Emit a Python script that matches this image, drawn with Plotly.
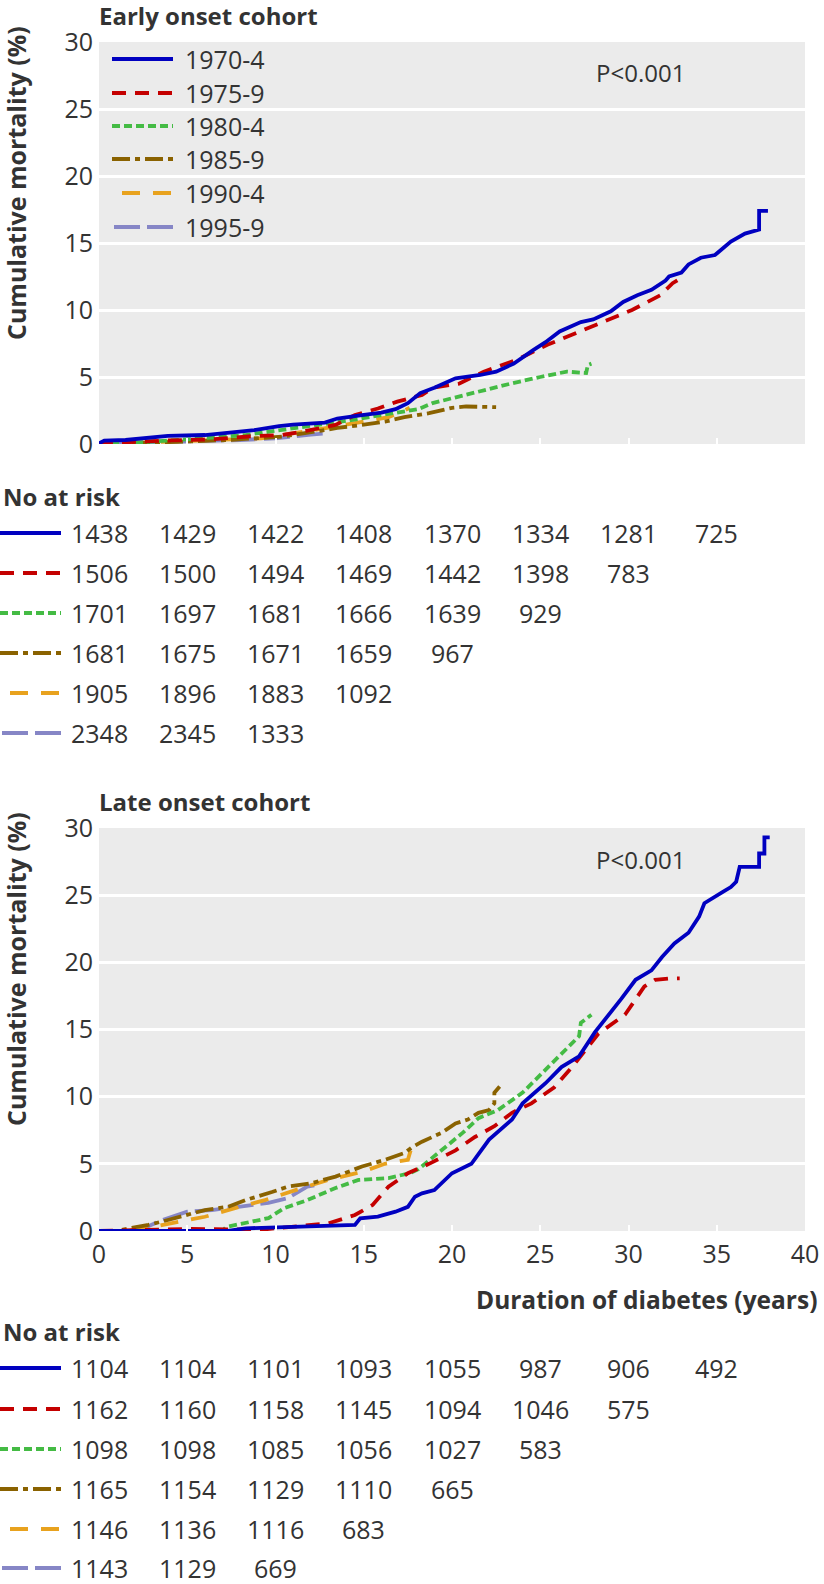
import plotly.graph_objects as go

W, H = 824, 1584

# ---------------- data ----------------
cohorts = ["1970-4", "1975-9", "1980-4", "1985-9", "1990-4", "1995-9"]
colors = ["#0000C0", "#C40000", "#44BB44", "#8A6200", "#E8A21E", "#8686C6"]
dashes = ["solid", "14px,9px", "8px,4px", "18px,5px,5px,5px", "18px,13px", "26px,7px"]
ticks_x = [0, 5, 10, 15, 20, 25, 30, 35, 40]
ticks_y = [0, 5, 10, 15, 20, 25, 30]

# Early onset cohort (duration, cumulative mortality %)
e1970_x = [0, 0.3, 1.5, 2.6, 3.9, 6.0, 7.3, 8.8, 10.2, 11.0, 12.8, 13.5, 14.9, 16.0, 16.8, 17.5, 18.2,
           19.0, 20.2, 21.0, 21.6, 22.5, 23.5, 24.6, 25.3, 26.1, 27.3, 28.0, 29.0, 29.7, 30.5, 31.3,
           32.1, 32.3, 33.0, 33.4, 34.1, 34.9, 35.8, 36.6, 37.4, 37.4, 37.9]
e1970_y = [0.05, 0.25, 0.3, 0.42, 0.6, 0.67, 0.85, 1.04, 1.34, 1.45, 1.6, 1.9, 2.16, 2.35, 2.6, 3.05, 3.8,
           4.2, 4.9, 5.05, 5.15, 5.4, 6.0, 7.0, 7.6, 8.4, 9.1, 9.3, 9.9, 10.6, 11.1, 11.5,
           12.2, 12.5, 12.8, 13.4, 13.9, 14.1, 15.1, 15.7, 16.0, 17.4, 17.4]
e1975_x = [0, 1.0, 3.6, 6.4, 8.8, 10.4, 11.8, 13.4, 14.5, 15.8, 16.9, 18.3, 18.9, 20.4, 21.8, 23.7,
           25.4, 26.5, 28.4, 30.2, 31.8, 32.5, 33.0]
e1975_y = [0, 0.1, 0.25, 0.35, 0.6, 0.67, 1.0, 1.42, 2.16, 2.65, 3.16, 3.66, 4.2, 4.5, 5.4, 6.3,
           7.4, 8.0, 9.0, 10.0, 11.1, 12.0, 12.4]
e1980_x = [0, 1.5, 4.5, 8.3, 11.7, 13.9, 16.0, 17.5, 18.1, 18.9, 20.2, 21.8, 23.3, 25.0, 26.5, 27.6, 27.7, 27.9]
e1980_y = [0, 0.05, 0.3, 0.67, 1.3, 1.7, 2.16, 2.5, 2.6, 3.05, 3.5, 4.0, 4.5, 5.0, 5.4, 5.3, 5.9, 6.0]
e1985_x = [0, 2.0, 7.3, 10.4, 12.6, 13.5, 14.9, 16.2, 17.3, 18.3, 18.7, 20.0, 20.8, 22.5]
e1985_y = [0, 0.05, 0.3, 0.55, 1.0, 1.2, 1.42, 1.67, 2.0, 2.25, 2.3, 2.7, 2.8, 2.75]
e1990_x = [0, 4.5, 9.2, 12.0, 14.7, 16.4, 17.3, 17.6]
e1990_y = [0, 0.2, 0.42, 1.0, 1.6, 2.0, 2.5, 2.7]
e1995_x = [0, 3.0, 5.4, 8.0, 10.0, 11.1, 12.0, 12.9]
e1995_y = [0, 0.1, 0.2, 0.3, 0.42, 0.6, 0.7, 0.8]

# Late onset cohort
l1970_x = [0, 7.3, 8.3, 11.8, 14.5, 14.8, 15.8, 16.8, 17.5, 17.9, 18.3, 19.0, 20.0, 21.1, 22.1, 23.4,
           24.0, 25.3, 26.2, 27.2, 28.1, 29.6, 30.4, 31.3, 31.9, 32.6, 33.4, 34.0, 34.3, 35.3, 35.8,
           36.1, 36.3, 37.4, 37.4, 37.7, 37.7, 38.0]
l1970_y = [0, 0, 0.2, 0.37, 0.45, 0.95, 1.07, 1.44, 1.8, 2.55, 2.8, 3.05, 4.3, 5.0, 6.8, 8.3,
           9.5, 11.0, 12.2, 13.0, 14.8, 17.3, 18.7, 19.4, 20.4, 21.4, 22.2, 23.4, 24.4, 25.2, 25.6,
           26.0, 27.1, 27.1, 28.1, 28.1, 29.3, 29.3]
l1975_x = [0, 5.0, 9.2, 11.1, 13.0, 14.5, 15.5, 16.4, 17.5, 18.2, 18.7, 20.2, 21.3, 22.4, 23.4, 24.5,
           25.8, 26.8, 28.3, 29.8, 30.4, 30.9, 31.5, 32.3, 32.9]
l1975_y = [0, 0.15, 0.1, 0.3, 0.57, 1.19, 1.94, 3.3, 4.3, 4.7, 5.0, 6.0, 7.0, 7.8, 8.8, 9.5,
           10.7, 12.2, 14.7, 16.1, 17.3, 18.2, 18.7, 18.8, 18.8]
l1980_x = [0, 7.0, 7.2, 8.8, 9.6, 10.5, 11.8, 13.4, 14.7, 16.4, 17.6, 18.1, 19.2, 20.6, 21.5, 22.6,
           24.0, 24.9, 26.0, 26.8, 27.2, 27.3, 27.9]
l1980_y = [0, 0, 0.3, 0.7, 0.96, 1.7, 2.3, 3.2, 3.8, 3.94, 4.3, 4.6, 5.8, 7.3, 8.4, 9.0,
           10.3, 11.5, 13.0, 14.0, 14.5, 15.5, 16.1]
l1985_x = [0, 1.0, 1.7, 2.8, 3.9, 6.0, 7.3, 8.3, 9.8, 10.7, 12.0, 13.4, 14.9, 16.2, 17.3, 17.7, 18.3,
           18.7, 19.4, 20.2, 20.9, 21.5, 22.1, 22.4, 22.4, 22.7]
l1985_y = [0, 0, 0.2, 0.45, 0.82, 1.56, 1.8, 2.3, 2.9, 3.3, 3.55, 4.05, 4.8, 5.3, 5.8, 6.2, 6.65,
           6.9, 7.3, 8.0, 8.3, 8.8, 9.0, 9.5, 10.3, 10.75]
l1990_x = [0, 1.5, 3.0, 6.0, 7.7, 9.4, 11.5, 13.0, 14.9, 16.2, 17.5, 17.6, 17.7]
l1990_y = [0, 0, 0.3, 1.06, 1.7, 2.3, 3.2, 3.8, 4.4, 5.0, 5.3, 5.9, 6.2]
l1995_x = [0, 1.5, 2.7, 3.6, 5.0, 6.4, 7.9, 9.6, 10.7, 11.8, 12.2]
l1995_y = [0, 0, 0.3, 0.82, 1.44, 1.56, 1.8, 2.1, 2.45, 3.3, 3.4]

# Numbers at risk (columns at 0, 5, 10, ... years)
early_risk_1970 = [1438, 1429, 1422, 1408, 1370, 1334, 1281, 725]
early_risk_1975 = [1506, 1500, 1494, 1469, 1442, 1398, 783]
early_risk_1980 = [1701, 1697, 1681, 1666, 1639, 929]
early_risk_1985 = [1681, 1675, 1671, 1659, 967]
early_risk_1990 = [1905, 1896, 1883, 1092]
early_risk_1995 = [2348, 2345, 1333]
late_risk_1970 = [1104, 1104, 1101, 1093, 1055, 987, 906, 492]
late_risk_1975 = [1162, 1160, 1158, 1145, 1094, 1046, 575]
late_risk_1980 = [1098, 1098, 1085, 1056, 1027, 583]
late_risk_1985 = [1165, 1154, 1129, 1110, 665]
late_risk_1990 = [1146, 1136, 1116, 683]
late_risk_1995 = [1143, 1129, 669]

early_series = [(e1970_x, e1970_y), (e1975_x, e1975_y), (e1980_x, e1980_y),
                (e1985_x, e1985_y), (e1990_x, e1990_y), (e1995_x, e1995_y)]
late_series = [(l1970_x, l1970_y), (l1975_x, l1975_y), (l1980_x, l1980_y),
               (l1985_x, l1985_y), (l1990_x, l1990_y), (l1995_x, l1995_y)]
early_risk = [early_risk_1970, early_risk_1975, early_risk_1980,
              early_risk_1985, early_risk_1990, early_risk_1995]
late_risk = [late_risk_1970, late_risk_1975, late_risk_1980,
             late_risk_1985, late_risk_1990, late_risk_1995]

# ---------------- figure ----------------
FONT = "Open Sans"
TXT = "#333333"
LW = 3.8


def py(pix):
    return 1 - pix / H


def px(pix):
    return pix / W


fig = go.Figure()
for panel, series in (("", early_series), ("2", late_series)):
    for i in reversed(range(len(cohorts))):
        xs, ys = series[i]
        fig.add_trace(go.Scatter(
            x=xs, y=ys, mode="lines", name=cohorts[i],
            line=dict(color=colors[i], width=LW, dash=dashes[i]),
            xaxis="x" + panel, yaxis="y" + panel, cliponaxis=False,
            showlegend=False, hoverinfo="skip"))

xdom = [px(99), px(805)]
xcommon = dict(domain=xdom, range=[0, 40], tickvals=ticks_x, showgrid=False, zeroline=False,
               showline=False, ticks="inside", ticklen=6, tickwidth=2, tickcolor="white",
               automargin=False,
               tickfont=dict(family=FONT, size=25, color=TXT, weight=400), fixedrange=True)
ycommon = dict(range=[0, 30], tickvals=ticks_y, showgrid=True, gridcolor="white", gridwidth=2.5,
               zeroline=False, showline=False, ticks="", ticklabelstandoff=5, automargin=False,
               tickfont=dict(family=FONT, size=25, color=TXT, weight=400), fixedrange=True)

fig.update_layout(
    width=W, height=H, margin=dict(l=0, r=0, t=0, b=0, pad=0, autoexpand=False),
    paper_bgcolor="white", plot_bgcolor="#EBEBEB", showlegend=False,
    xaxis=dict(xcommon, anchor="y", showticklabels=False),
    yaxis=dict(ycommon, anchor="x", domain=[py(444), py(42)]),
    xaxis2=dict(xcommon, anchor="y2", showticklabels=True, ticklabelstandoff=6),
    yaxis2=dict(ycommon, anchor="x2", domain=[py(1231), py(828)]),
)

ann = []
shapes = []


def text(x, y, s, size=25, bold=False, xanchor="left", xref="paper", angle=0):
    ann.append(dict(x=x, y=y, xref=xref, yref="paper", text=s, showarrow=False,
                    xanchor=xanchor, yanchor="middle", textangle=angle,
                    font=dict(family=FONT, size=size, color=TXT, weight=700 if bold else 400)))


def sample(x0, x1, y, i):
    shapes.append(dict(type="line", xref="paper", yref="paper", x0=px(x0), x1=px(x1),
                       y0=py(y), y1=py(y), line=dict(color=colors[i], width=LW, dash=dashes[i])))


# titles
text(px(97), py(16), "Early onset cohort", size=24, bold=True)
text(px(97), py(801), "Late onset cohort", size=24, bold=True)
# y-axis titles
text(px(16), py(183), "Cumulative mortality (%)", size=25, bold=True, xanchor="center", angle=-90)
text(px(16), py(969), "Cumulative mortality (%)", size=25, bold=True, xanchor="center", angle=-90)
# x-axis title
text(px(819), py(1299), "Duration of diabetes (years)", size=24.5, bold=True, xanchor="right")
# p-values
text(px(640), py(73), "P<0.001", size=24, xanchor="center")
text(px(640), py(859), "P<0.001", size=24, xanchor="center")

# legend inside the top panel
leg_rows = [59, 93, 126, 159, 193, 227]
for i, name in enumerate(cohorts):
    start = 122 if i == 4 else (114 if i == 5 else 112)
    sample(start, 173, leg_rows[i], i)
    text(px(183), py(leg_rows[i]), name, size=25)

# numbers at risk tables
for title_y, rows_y, table, xref in ((496, [533, 573, 613, 653, 693, 733], early_risk, "x"),
                                     (1331, [1368, 1409, 1449, 1489, 1529, 1568], late_risk, "x2")):
    text(px(1), py(title_y), "No at risk", size=24, bold=True)
    for i, row in enumerate(table):
        start = 10 if i == 4 else (2 if i == 5 else 0)
        sample(start, 61, rows_y[i], i)
        for k, v in enumerate(row):
            text(ticks_x[k], py(rows_y[i]), str(v), size=25, xanchor="center", xref=xref)

fig.update_layout(annotations=ann, shapes=shapes)

fig.write_html("out.html", include_plotlyjs=True, config={"displayModeBar": False},
               post_script="document.body.style.margin='0';document.body.style.overflow='hidden';")
